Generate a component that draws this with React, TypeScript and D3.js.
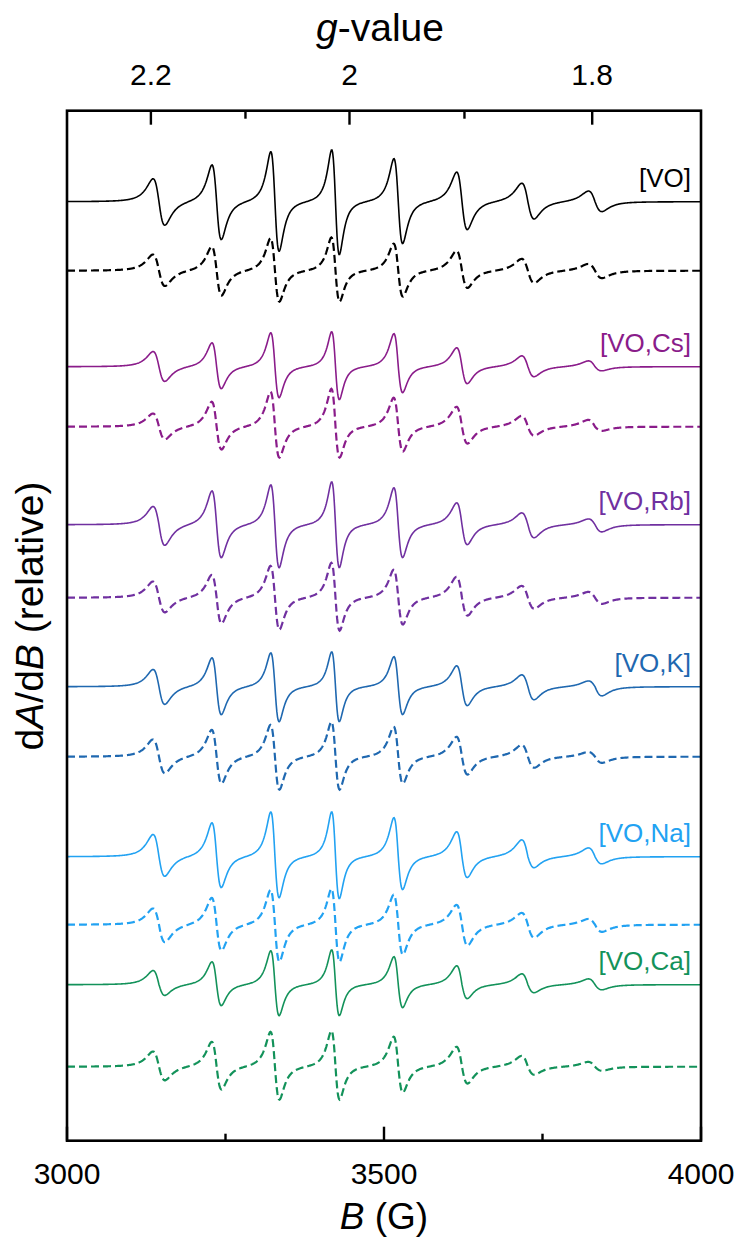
import React from "react";
import * as d3 from "d3";

// ---------- data ----------
const fieldDomain: [number, number] = [3000, 4000]; // B (G)
const bTicksMajor = [3000, 3500, 4000];
const bTicksMinor = [3250, 3750];
const gTicksMajor = [2.2, 2.0, 1.8];
const gTicksMinor = [2.1, 1.9];
const mwFrequencyGHz = 9.645;

// hyperfine line centres (G) and peak-to-peak widths (G)
const lineCentres = [3145, 3236, 3328, 3423.5, 3522.5, 3623, 3727, 3833];
const widthsExp = [18.5, 14.7, 13.1, 12.0, 13.7, 16.7, 19.4, 21.1];
const widthsSim = [19, 15.5, 14, 13, 14.5, 17.5, 20, 22];

const sampleNames = ["[VO]", "[VO,Cs]", "[VO,Rb]", "[VO,K]", "[VO,Na]", "[VO,Ca]"];
const sampleColours = ["#000000", "#8A1C8A", "#7030A0", "#1F68B0", "#22A2F2", "#13925A"];

// baselines (relative units, 1 unit = 1/1030 of the axis height)
const expOffsets = [939, 774, 616, 454, 284, 156];
const simOffsets = [870, 714, 543, 384, 216, 74];

// derivative maxima above and minima below baseline (relative units)
const expUp = [
  [22.7, 37, 50.3, 52, 43, 29.7, 18.7, 11],
  [15, 24, 34, 35, 33, 19, 11, 6],
  [18, 34, 40, 43, 37, 22, 12, 6],
  [17, 29, 34, 35, 30, 21, 12, 6],
  [22, 34, 45, 45, 39, 25, 17, 9],
  [14, 23, 34, 35, 28, 19, 11, 6],
];
const expDown = [
  [24, 38, 49.7, 53, 42, 28, 17.3, 9.7],
  [15, 22, 31, 33, 26, 17, 10, 4],
  [21, 33, 43, 43, 33, 20, 13, 7],
  [18, 28, 35, 35, 28, 19, 13, 9],
  [20, 31, 41, 42, 33, 21, 11, 7],
  [11, 21, 31, 31, 23, 14, 8, 5],
];
const simUp = [
  [16, 24.3, 32.7, 33.3, 27, 20, 12, 7],
  [13, 25, 35, 38, 29, 20, 11, 7],
  [16, 23, 32, 35, 28, 21, 12, 6],
  [17, 27, 32, 35, 30, 20, 12, 5],
  [16, 27, 35, 36, 30, 20, 12, 6],
  [15, 25, 35, 36, 30, 20, 11, 5],
];
const simDown = [
  [15.7, 25, 31, 31, 26, 17.3, 12.3, 7.3],
  [13, 23, 31, 31, 25, 17, 9, 4],
  [15, 26, 32, 33, 27, 18, 11, 6],
  [17, 27, 33, 33, 27, 18, 11, 6],
  [18, 26, 37, 37, 30, 21, 13, 7],
  [14, 23, 33, 33, 26, 17, 8, 4],
];

// ---------- layout ----------
const W = 739;
const H = 1241;
const X0 = 67;
const X1 = 701;
const Y0 = 110.7;
const Y1 = 1140.7;
const FONT = "'Liberation Sans', Arial, Helvetica, sans-serif";

const x = d3.scaleLinear().domain(fieldDomain).range([X0, X1]);
const y = d3.scaleLinear().domain([0, 1030]).range([Y1, Y0]);

// g = h*nu/(muB*B) -> B = 714.477 * nu(GHz) / g
const gToB = (g: number) => (714.477 * mwFrequencyGHz) / g;

// first-derivative Lorentzian, normalised to +1 at its maximum
const dLor = (u: number) => -u / ((1 + u * u) * (1 + u * u)) / 0.32476;

function spectrum(offset: number, up: number[], down: number[], widths: number[]) {
  const fields = d3.range(fieldDomain[0], fieldDomain[1] + 0.5, 1);
  return fields.map((b) => {
    let v = offset;
    lineCentres.forEach((c, i) => {
      const gamma = (widths[i] * Math.sqrt(3)) / 2;
      const u = (b - c) / gamma;
      v += (u < 0 ? up[i] : down[i]) * dLor(u);
    });
    return [b, v] as [number, number];
  });
}

const line = d3
  .line<[number, number]>()
  .x((d) => x(d[0]))
  .y((d) => y(d[1]));

export default function App() {
  return (
    <svg width={W} height={H} style={{ display: "block", position: "absolute", left: 0, top: 0 }}>
      <rect width={W} height={H} fill="#fff" />
      {sampleNames.map((name, k) => (
        <g key={name}>
          <path
            d={line(spectrum(expOffsets[k], expUp[k], expDown[k], widthsExp)) || ""}
            fill="none"
            stroke={sampleColours[k]}
            strokeWidth={1.6}
          />
          <path
            d={line(spectrum(simOffsets[k], simUp[k], simDown[k], widthsSim)) || ""}
            fill="none"
            stroke={sampleColours[k]}
            strokeWidth={2.2}
            strokeDasharray="8,4"
          />
          <text
            x={691}
            y={y(expOffsets[k]) - 15}
            textAnchor="end"
            fontFamily={FONT}
            fontSize={26}
            fill={sampleColours[k]}
          >
            {name}
          </text>
        </g>
      ))}

      {/* frame */}
      <rect x={X0} y={Y0} width={X1 - X0} height={Y1 - Y0} fill="none" stroke="#000" strokeWidth={2.6} />

      {/* bottom axis ticks */}
      {bTicksMajor.map((t) => (
        <g key={"bm" + t}>
          <line x1={x(t)} x2={x(t)} y1={Y1} y2={Y1 - 14} stroke="#000" strokeWidth={2.4} />
          <text x={x(t)} y={Y1 + 43} textAnchor="middle" fontFamily={FONT} fontSize={30}>
            {t}
          </text>
        </g>
      ))}
      {bTicksMinor.map((t) => (
        <line key={"bn" + t} x1={x(t)} x2={x(t)} y1={Y1} y2={Y1 - 7} stroke="#000" strokeWidth={2.4} />
      ))}

      {/* top axis ticks (g-value) */}
      {gTicksMajor.map((g) => (
        <g key={"gm" + g}>
          <line x1={x(gToB(g))} x2={x(gToB(g))} y1={Y0} y2={Y0 + 14} stroke="#000" strokeWidth={2.4} />
          <text x={x(gToB(g))} y={Y0 - 26} textAnchor="middle" fontFamily={FONT} fontSize={30}>
            {d3.format("~g")(g)}
          </text>
        </g>
      ))}
      {gTicksMinor.map((g) => (
        <line key={"gn" + g} x1={x(gToB(g))} x2={x(gToB(g))} y1={Y0} y2={Y0 + 8} stroke="#000" strokeWidth={2.4} />
      ))}

      {/* axis titles */}
      <text x={380} y={41} textAnchor="middle" fontFamily={FONT} fontSize={39}>
        <tspan fontStyle="italic">g</tspan>-value
      </text>
      <text x={(X0 + X1) / 2} y={1229} textAnchor="middle" fontFamily={FONT} fontSize={37}>
        <tspan fontStyle="italic">B</tspan> (G)
      </text>
      <text
        transform={`translate(43,616) rotate(-90)`}
        textAnchor="middle"
        fontFamily={FONT}
        fontSize={39}
      >
        d<tspan fontStyle="italic">A</tspan>/d<tspan fontStyle="italic">B</tspan> (relative)
      </text>
    </svg>
  );
}
